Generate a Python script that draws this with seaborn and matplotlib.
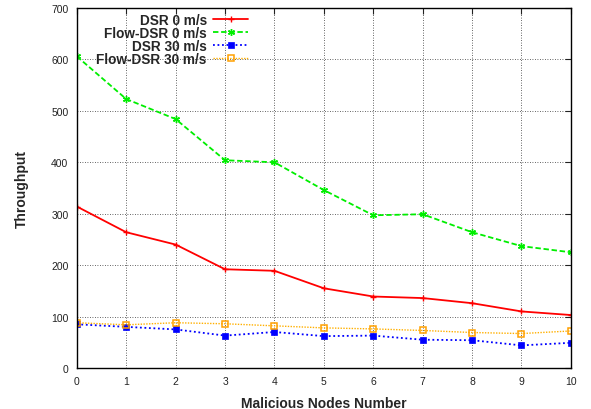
import numpy as np
import pandas as pd
import seaborn as sns
import matplotlib
matplotlib.use("Agg")
import matplotlib.pyplot as plt

nodes = list(range(11))
dsr_0 = [314, 264, 240, 192, 189, 155, 139, 136, 126, 110, 103]
flow_dsr_0 = [606, 523, 484, 404, 400, 346, 297, 299, 264, 237, 225]
dsr_30 = [85, 80, 75, 63, 70, 62, 63, 55, 54, 44, 49]
flow_dsr_30 = [88, 84, 88, 86, 82, 78, 76, 73, 69, 67, 72]

sns.set_style("white")
plt.rcParams["font.family"] = ["Liberation Sans", "DejaVu Sans"]

fig = plt.figure(figsize=(5.91, 4.10), dpi=100)
ax = fig.add_axes([0.130, 0.100, 0.836, 0.878])

series = [
    ("DSR 0 m/s", dsr_0, dict(color="#ff0000", linestyle="-", marker="+",
                               markersize=5, linewidth=1.3,
                               markeredgecolor="#ff0000", markeredgewidth=1.0)),
    ("Flow-DSR 0 m/s", flow_dsr_0, dict(color="#00ee00", linestyle=(0, (3, 1.5)),
                                         marker=(6, 2, 0), markersize=5, linewidth=1.3,
                                         markeredgecolor="#00ee00", markeredgewidth=1.0)),
    ("DSR 30 m/s", dsr_30, dict(color="#0000ff", linestyle=(0, (1, 1.5)),
                                 marker="s", markersize=4, linewidth=1.3,
                                 markeredgecolor="#0000ff", markeredgewidth=0.5)),
    ("Flow-DSR 30 m/s", flow_dsr_30, dict(color="#ffb000", linestyle=(0, (1, 1)),
                                           marker="s", markersize=4.5, linewidth=1.0,
                                           markerfacecolor="none", markeredgecolor="#ffa000",
                                           markeredgewidth=1.1)),
]

for label, vals, style in series:
    df = pd.DataFrame({"nodes": nodes, "throughput": vals})
    sns.lineplot(data=df, x="nodes", y="throughput", ax=ax, label=label, **style)

ax.set_xlim(0, 10)
ax.set_ylim(0, 700)
ax.set_xticks(range(0, 11))
ax.set_yticks(range(0, 701, 100))
ax.grid(True, color="#333333", linestyle=(0, (1, 2)), linewidth=0.6)
ax.tick_params(axis="both", direction="in", top=True, right=True, length=4,
               labelsize=7.5, colors="#222222", pad=6)
for s in ax.spines.values():
    s.set_color("black")
    s.set_linewidth(1.0)

ax.set_xlabel("Malicious Nodes Number", fontsize=10, fontweight="bold", labelpad=7)
ax.set_ylabel("Throughput", fontsize=10, fontweight="bold", labelpad=16)

leg = ax.legend(loc="upper left", bbox_to_anchor=(0.026, 1.005), markerfirst=False,
                frameon=False, prop={"weight": "bold", "size": 9.8},
                handlelength=2.6, labelspacing=-0.08, borderaxespad=0.1,
                handletextpad=0.45)

fig.savefig("out.png", dpi=100)
